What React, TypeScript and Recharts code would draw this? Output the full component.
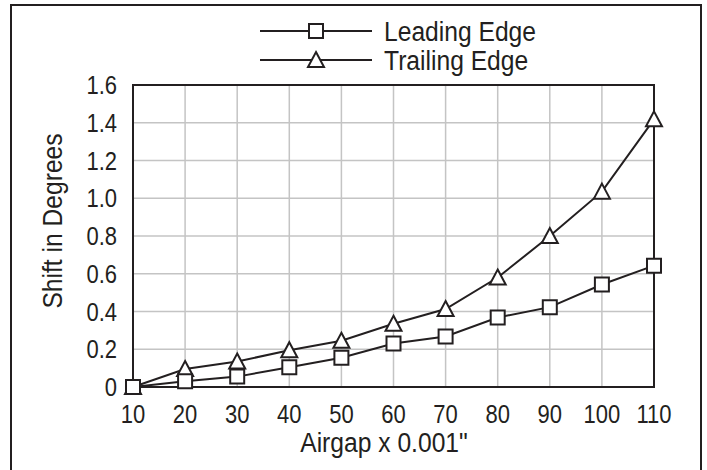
import React from 'react';
import { LineChart, Line, XAxis, YAxis, CartesianGrid, Legend, ReferenceArea, Label } from 'recharts';

const airgap = [10, 20, 30, 40, 50, 60, 70, 80, 90, 100, 110];
const leadingEdge = [0, 0.03, 0.055, 0.105, 0.155, 0.23, 0.268, 0.368, 0.423, 0.543, 0.643];
const trailingEdge = [0, 0.095, 0.135, 0.195, 0.245, 0.335, 0.413, 0.58, 0.8, 1.035, 1.418];
const xTicks = [10, 20, 30, 40, 50, 60, 70, 80, 90, 100, 110];
const yTicks = [0, 0.2, 0.4, 0.6, 0.8, 1.0, 1.2, 1.4, 1.6];
const seriesNames = ['Leading Edge', 'Trailing Edge'];
const xTitle = 'Airgap x 0.001"';
const yTitle = 'Shift in Degrees';

const data = airgap.map((x, i) => ({ x, leading: leadingEdge[i], trailing: trailingEdge[i] }));

const INK = '#231f20';
const GRID = '#c4c4c4';
const FONT = '"Liberation Sans", Arial, Helvetica, sans-serif';
const SX = 0.88;
const TICK_SIZE = 25;
const TITLE_SIZE = 28;

const squarePath = (cx: number, cy: number) =>
  `M${cx - 7},${cy - 7} L${cx + 7},${cy - 7} L${cx + 7},${cy + 7} L${cx - 7},${cy + 7} Z`;
const trianglePath = (cx: number, cy: number) =>
  `M${cx},${cy - 8} L${cx + 8},${cy + 7} L${cx - 8},${cy + 7} Z`;

const SquareDot = (props: any) => {
  const { cx, cy, index } = props;
  if (cx == null || cy == null) return <g key={`s-${index}`} />;
  return <path key={`s-${index}`} d={squarePath(cx, cy)} fill="#fff" stroke={INK} strokeWidth={2} />;
};

const TriangleDot = (props: any) => {
  const { cx, cy, index } = props;
  if (cx == null || cy == null) return <g key={`t-${index}`} />;
  return <path key={`t-${index}`} d={trianglePath(cx, cy)} fill="#fff" stroke={INK} strokeWidth={2} />;
};

const CondText = ({ x, y, anchor, size, rotate, children }: any) => (
  <g transform={`translate(${x},${y})${rotate ? ` rotate(${rotate})` : ''} scale(${SX},1)`}>
    <text x={0} y={0} textAnchor={anchor} fill={INK} fontSize={size} fontFamily={FONT}>
      {children}
    </text>
  </g>
);

const XTick = (props: any) => {
  const { x, payload } = props;
  return (
    <CondText x={x} y={423} anchor="middle" size={TICK_SIZE}>
      {String(payload.value)}
    </CondText>
  );
};

const YTick = (props: any) => {
  const { y, payload } = props;
  const v = payload.value as number;
  return (
    <CondText x={117} y={y + 9} anchor="end" size={TICK_SIZE}>
      {v === 0 ? '0' : v.toFixed(1)}
    </CondText>
  );
};

const renderLegend = () => (
  <svg width={707} height={70} style={{ display: 'block', overflow: 'visible' }}>
    {seriesNames.map((name, i) => {
      const cy = 31 + i * 29;
      return (
        <g key={name}>
          <line x1={260} y1={cy} x2={372} y2={cy} stroke={INK} strokeWidth={2} />
          <path d={i === 0 ? squarePath(316, cy) : trianglePath(316, cy)} fill="#fff" stroke={INK} strokeWidth={2} />
          <CondText x={384} y={cy + 10} anchor="start" size={TITLE_SIZE}>
            {name}
          </CondText>
        </g>
      );
    })}
  </svg>
);

export default function App() {
  return (
    <div style={{ position: 'absolute', left: 0, top: 0, width: 707, height: 470, background: '#fff', fontFamily: FONT }}>
      <LineChart
        width={707}
        height={470}
        data={data}
        margin={{ top: 15, right: 53, bottom: 23, left: 0 }}
        style={{ fontFamily: FONT, overflow: 'visible' }}
      >
        <CartesianGrid stroke={GRID} strokeWidth={1.5} />
        <XAxis
          dataKey="x"
          type="number"
          domain={[10, 110]}
          ticks={xTicks}
          interval={0}
          height={60}
          tickLine={false}
          axisLine={{ stroke: INK, strokeWidth: 2 }}
          tick={<XTick />}
        >
          <Label
            content={() => (
              <CondText x={384} y={452} anchor="middle" size={TITLE_SIZE}>
                {xTitle}
              </CondText>
            )}
          />
        </XAxis>
        <YAxis
          type="number"
          domain={[0, 1.6]}
          ticks={yTicks}
          interval={0}
          width={133}
          tickLine={false}
          axisLine={{ stroke: INK, strokeWidth: 2 }}
          tick={<YTick />}
        >
          <Label
            content={() => (
              <CondText x={62} y={221} anchor="middle" size={TITLE_SIZE} rotate={-90}>
                {yTitle}
              </CondText>
            )}
          />
        </YAxis>
        <ReferenceArea x1={10} x2={110} y1={0} y2={1.6} fill="none" stroke={INK} strokeWidth={2} />
        <Legend
          verticalAlign="top"
          align="left"
          height={70}
          content={renderLegend}
          wrapperStyle={{ left: 0, top: 0, width: 707, height: 70, overflow: 'visible' }}
        />
        <Line
          type="linear"
          dataKey="trailing"
          name={seriesNames[1]}
          stroke={INK}
          strokeWidth={2}
          dot={TriangleDot}
          activeDot={false}
          isAnimationActive={false}
        />
        <Line
          type="linear"
          dataKey="leading"
          name={seriesNames[0]}
          stroke={INK}
          strokeWidth={2}
          dot={SquareDot}
          activeDot={false}
          isAnimationActive={false}
        />
      </LineChart>
      <div
        style={{
          position: 'absolute',
          left: 10,
          top: 4,
          width: 692,
          height: 470,
          borderLeft: `2px solid ${INK}`,
          borderTop: `2px solid ${INK}`,
          borderRight: `2px solid ${INK}`,
          boxSizing: 'border-box',
          pointerEvents: 'none',
        }}
      />
    </div>
  );
}
